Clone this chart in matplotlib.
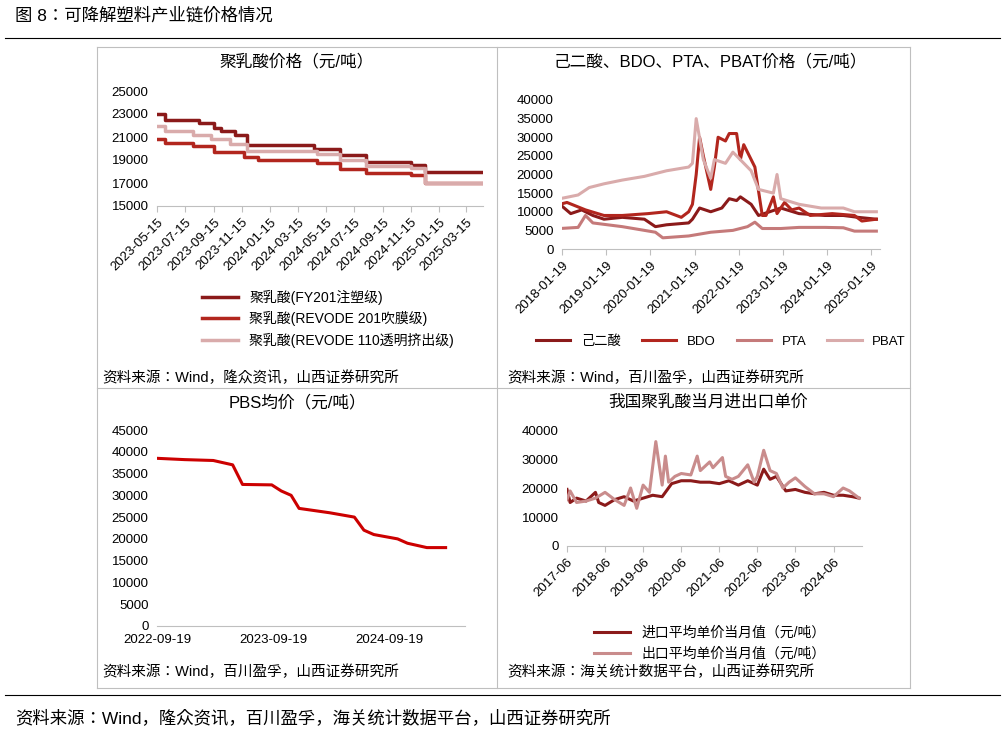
import matplotlib
matplotlib.use("Agg")
import matplotlib.pyplot as plt
import matplotlib.dates as mdates
import pandas as pd

CJK = ["Noto Sans CJK JP", "Noto Sans CJK SC", "Noto Sans CJK TC", "Noto Sans CJK KR"]
plt.rcParams["font.family"] = ["Liberation Sans"] + CJK

W, H = 1007, 735

# ---- panel 1: PLA step prices (start date of each level, level) ----
pla_fy201_dates = ["2023-05-15", "2023-06-01", "2023-08-15", "2023-09-15", "2023-10-01", "2023-11-01",
                   "2023-11-25", "2024-04-20", "2024-06-15", "2024-08-10", "2024-11-15", "2024-12-15", "2025-04-20"]
pla_fy201_vals = [23000, 22500, 22200, 21800, 21500, 21200, 20300, 20000, 19400, 18800, 18600, 18000, 18000]
pla_r201_dates = ["2023-05-15", "2023-06-01", "2023-08-01", "2023-09-15", "2023-11-20", "2023-12-20",
                  "2024-04-25", "2024-06-15", "2024-08-10", "2024-11-15", "2024-12-15", "2025-04-20"]
pla_r201_vals = [20800, 20500, 20200, 19700, 19300, 19000, 18700, 18200, 17900, 17700, 17000, 17000]
pla_r110_dates = ["2023-05-15", "2023-06-01", "2023-08-01", "2023-09-10", "2023-10-20", "2023-11-25",
                  "2024-04-25", "2024-06-15", "2024-08-10", "2024-11-15", "2024-12-15", "2025-04-20"]
pla_r110_vals = [22000, 21500, 21200, 20800, 20400, 19800, 19500, 19000, 18500, 18300, 17000, 17000]
pla_ticks = ["2023-05-15", "2023-07-15", "2023-09-15", "2023-11-15", "2024-01-15", "2024-03-15",
             "2024-05-15", "2024-07-15", "2024-09-15", "2024-11-15", "2025-01-15", "2025-03-15"]

# ---- panel 2: adipic acid / BDO / PTA / PBAT ----
adi_dates = ["2018-01", "2018-04", "2018-07", "2018-10", "2019-01", "2019-06", "2019-12", "2020-03", "2020-06",
             "2020-12", "2021-01", "2021-03", "2021-06", "2021-09", "2021-11", "2022-01", "2022-02", "2022-05",
             "2022-07", "2022-10", "2023-01", "2023-06", "2024-01", "2024-06", "2024-10", "2025-03"]
adi_vals = [12000, 9500, 10500, 9000, 8000, 8500, 8000, 6000, 6500, 7000, 8000, 11000, 10000, 11000, 13500,
            13000, 14000, 12000, 9000, 10000, 11000, 9500, 9000, 9000, 8500, 8000]
bdo_dates = ["2018-01", "2018-03", "2018-08", "2019-01", "2019-06", "2020-01", "2020-06", "2020-10", "2020-12",
             "2021-01", "2021-02", "2021-03", "2021-04", "2021-06", "2021-07", "2021-08", "2021-10", "2021-11",
             "2022-01", "2022-02", "2022-03", "2022-06", "2022-08", "2022-09", "2022-11", "2022-12", "2023-02",
             "2023-04", "2023-06", "2023-09", "2024-03", "2024-09", "2024-11", "2025-03"]
bdo_vals = [12000, 12500, 10500, 9000, 9000, 9500, 10000, 8500, 10000, 12000, 20000, 30000, 25000, 16000,
            22000, 30000, 29000, 31000, 31000, 24000, 28000, 22000, 9000, 9000, 14000, 9500, 12500, 10500,
            11000, 9000, 9500, 9000, 7500, 8000]
pta_dates = ["2018-01", "2018-06", "2018-08", "2018-10", "2019-06", "2019-12", "2020-03", "2020-05", "2020-12",
             "2021-06", "2021-12", "2022-04", "2022-06", "2022-08", "2023-01", "2023-06", "2024-01", "2024-06",
             "2024-09", "2025-03"]
pta_vals = [5500, 5800, 9000, 7000, 6000, 5000, 4500, 3000, 3500, 4500, 5000, 6000, 7200, 5500, 5500, 5800,
            5800, 5700, 4800, 4800]
pbat_dates = ["2018-01", "2018-06", "2018-09", "2019-01", "2019-06", "2019-12", "2020-06", "2020-12", "2021-01",
              "2021-02", "2021-04", "2021-06", "2021-07", "2021-10", "2021-12", "2022-01", "2022-05", "2022-07",
              "2022-11", "2022-12", "2023-01", "2023-06", "2023-12", "2024-06", "2024-09", "2025-03"]
pbat_vals = [13500, 14500, 16500, 17500, 18500, 19500, 21000, 22000, 23000, 35000, 24000, 19000, 24000, 23000,
             26000, 25000, 21000, 16000, 15000, 20000, 13500, 12000, 11000, 11000, 10000, 10000]
chem_ticks = ["2018-01-19", "2019-01-19", "2020-01-19", "2021-01-19", "2022-01-19", "2023-01-19",
              "2024-01-19", "2025-01-19"]

# ---- panel 3: PBS average price ----
pbs_dates = ["2022-09-19", "2022-12-15", "2023-03-15", "2023-05-15", "2023-06-15", "2023-09-15", "2023-10-15",
             "2023-11-15", "2023-12-10", "2024-03-15", "2024-06-01", "2024-07-01", "2024-08-01", "2024-10-15",
             "2024-11-15", "2025-01-15", "2025-03-15"]
pbs_vals = [38500, 38200, 38000, 37000, 32500, 32400, 31000, 30000, 27000, 26000, 25000, 22000, 21000, 20000,
            19000, 18000, 18000]
pbs_ticks = ["2022-09-19", "2023-09-19", "2024-09-19"]

# ---- panel 4: PLA import / export monthly unit price ----
imp_dates = ["2017-06", "2017-07", "2017-09", "2017-12", "2018-03", "2018-04", "2018-06", "2018-09", "2018-12",
             "2019-03", "2019-06", "2019-09", "2019-12", "2020-03", "2020-06", "2020-09", "2020-12", "2021-03",
             "2021-06", "2021-09", "2021-12", "2022-03", "2022-06", "2022-08", "2022-10", "2022-12", "2023-03",
             "2023-06", "2023-09", "2023-12", "2024-03", "2024-06", "2024-09", "2024-12", "2025-02"]
imp_vals = [19500, 15000, 16500, 15500, 18500, 15000, 14000, 16000, 17000, 15500, 16500, 17500, 17000, 21500,
            22500, 22500, 22000, 22000, 21500, 22500, 21000, 22500, 21000, 26500, 23000, 24000, 19000, 19500,
            18500, 18000, 18500, 17500, 17500, 17000, 16500]
exp_dates = ["2017-06", "2017-07", "2017-09", "2017-12", "2018-03", "2018-06", "2018-09", "2018-12", "2019-02",
             "2019-04", "2019-06", "2019-08", "2019-10", "2019-12", "2020-01", "2020-02", "2020-04", "2020-06",
             "2020-09", "2020-11", "2020-12", "2021-03", "2021-04", "2021-07", "2021-08", "2021-10", "2021-12",
             "2022-03", "2022-05", "2022-06", "2022-08", "2022-10", "2022-12", "2023-02", "2023-04", "2023-06",
             "2023-09", "2023-12", "2024-03", "2024-06", "2024-09", "2024-11", "2025-02"]
exp_vals = [16000, 19000, 15000, 15500, 16500, 18500, 16000, 14000, 20000, 13000, 21000, 18500, 36000, 21000,
            31000, 22000, 24000, 25000, 24500, 31000, 26000, 29000, 27000, 30500, 24000, 23000, 24000, 28000,
            22000, 24000, 33000, 26000, 25000, 20000, 22000, 23500, 20500, 18000, 18000, 17000, 20000, 19000, 16500]
trade_ticks = ["2017-06", "2018-06", "2019-06", "2020-06", "2021-06", "2022-06", "2023-06", "2024-06"]

DARK = "#8B1A1A"
RED = "#B2261E"
PINK = "#C57A7A"
LIGHT = "#D9ABAB"

fig = plt.figure(figsize=(W / 100, H / 100), dpi=100)


def px_axes(x0, y0, x1, y1):
    return fig.add_axes([x0 / W, 1 - y1 / H, (x1 - x0) / W, (y1 - y0) / H])


def style(ax, yticks, ylim):
    ax.set_ylim(*ylim)
    ax.set_yticks(yticks)
    for s in ("top", "right", "left"):
        ax.spines[s].set_visible(False)
    ax.spines["bottom"].set_color("#BFBFBF")
    ax.tick_params(axis="y", length=0, labelsize=9.5, pad=6)
    ax.tick_params(axis="x", color="#BFBFBF", labelsize=9.5, direction="out", length=4)


def fig_text(x, y, s, size=11, **kw):
    fig.text(x / W, 1 - y / H, s, fontsize=size, va="center", **kw)


dt = pd.to_datetime
LEG = {"size": 10}

# panel 1
ax1 = px_axes(157, 91, 483, 206)
ax1.step(dt(pla_fy201_dates), pla_fy201_vals, where="post", color=DARK, lw=2.5, label="聚乳酸(FY201注塑级)")
ax1.step(dt(pla_r201_dates), pla_r201_vals, where="post", color=RED, lw=2.5, label="聚乳酸(REVODE 201吹膜级)")
ax1.step(dt(pla_r110_dates), pla_r110_vals, where="post", color=LIGHT, lw=2.5, label="聚乳酸(REVODE 110透明挤出级)")
style(ax1, range(15000, 25001, 2000), (15000, 25000))
ax1.set_xlim(dt("2023-05-15"), dt("2025-04-20"))
ax1.set_xticks(dt(pla_ticks))
ax1.xaxis.set_major_formatter(mdates.DateFormatter("%Y-%m-%d"))
plt.setp(ax1.get_xticklabels(), rotation=45, ha="right", rotation_mode="anchor")
ax1.legend(loc="upper left", bbox_to_anchor=(0.1, -0.62), frameon=False, prop=LEG,
           handlelength=2.6, labelspacing=0.45)

# panel 2
ax2 = px_axes(562, 100, 880, 249)
ax2.plot(dt(adi_dates), adi_vals, color=DARK, lw=2.2, label="己二酸")
ax2.plot(dt(bdo_dates), bdo_vals, color=RED, lw=2.2, label="BDO")
ax2.plot(dt(pta_dates), pta_vals, color=PINK, lw=2.2, label="PTA")
ax2.plot(dt(pbat_dates), pbat_vals, color=LIGHT, lw=2.2, label="PBAT")
style(ax2, range(0, 40001, 5000), (0, 40000))
ax2.set_xlim(dt("2018-01-19"), dt("2025-03-31"))
ax2.set_xticks(dt(chem_ticks))
ax2.xaxis.set_major_formatter(mdates.DateFormatter("%Y-%m-%d"))
plt.setp(ax2.get_xticklabels(), rotation=45, ha="right", rotation_mode="anchor")
ax2.legend(loc="upper center", bbox_to_anchor=(0.5, -0.5), ncol=4, frameon=False,
           prop={"size": 9.5}, handlelength=2.6, columnspacing=1.6)

# panel 3
ax3 = px_axes(157, 430, 465, 626)
ax3.plot(dt(pbs_dates), pbs_vals, color="#CC0000", lw=2.2)
style(ax3, range(0, 45001, 5000), (0, 45000))
ax3.set_xlim(dt("2022-09-19"), dt("2025-05-15"))
ax3.set_xticks(dt(pbs_ticks))
ax3.xaxis.set_major_formatter(mdates.DateFormatter("%Y-%m-%d"))
ax3.tick_params(axis="x", length=0, pad=6)

# panel 4
ax4 = px_axes(567, 430, 862, 546)
ax4.plot(dt(imp_dates), imp_vals, color=DARK, lw=2.2, label="进口平均单价当月值（元/吨）")
ax4.plot(dt(exp_dates), exp_vals, color="#C98C8C", lw=2.2, label="出口平均单价当月值（元/吨）")
style(ax4, range(0, 40001, 10000), (0, 40000))
ax4.set_xlim(dt("2017-06"), dt("2025-03"))
ax4.set_xticks(dt(trade_ticks))
ax4.xaxis.set_major_formatter(mdates.DateFormatter("%Y-%m"))
plt.setp(ax4.get_xticklabels(), rotation=45, ha="right", rotation_mode="anchor")
ax4.legend(loc="upper left", bbox_to_anchor=(0.05, -0.58), frameon=False, prop=LEG,
           handlelength=2.6, labelspacing=0.5)

# frame, titles, sources
fig_text(15, 15, "图 8：可降解塑料产业链价格情况", size=12.5)
fig.add_artist(plt.Line2D([5 / W, 1000 / W], [1 - 38 / H] * 2, color="black", lw=0.8))
fig.add_artist(plt.Line2D([5 / W, 1000 / W], [1 - 695 / H] * 2, color="black", lw=0.8))
for (x0, y0, x1, y1) in [(97, 47, 910, 47), (97, 47, 97, 688), (910, 47, 910, 688), (97, 688, 910, 688),
                         (97, 388, 910, 388), (497, 47, 497, 688)]:
    fig.add_artist(plt.Line2D([x0 / W, x1 / W], [1 - y0 / H, 1 - y1 / H], color="#BFBFBF", lw=0.8))
fig_text(297, 61, "聚乳酸价格（元/吨）", size=12, ha="center")
fig_text(710, 61, "己二酸、BDO、PTA、PBAT价格（元/吨）", size=12, ha="center")
fig_text(297, 402, "PBS均价（元/吨）", size=12, ha="center")
fig_text(708, 402, "我国聚乳酸当月进出口单价", size=12, ha="center")
fig_text(102, 378, "资料来源：Wind，隆众资讯，山西证券研究所", size=10.5)
fig_text(507, 378, "资料来源：Wind，百川盈孚，山西证券研究所", size=10.5)
fig_text(102, 672, "资料来源：Wind，百川盈孚，山西证券研究所", size=10.5)
fig_text(507, 672, "资料来源：海关统计数据平台，山西证券研究所", size=10.5)
fig_text(15, 718, "资料来源：Wind，隆众资讯，百川盈孚，海关统计数据平台，山西证券研究所", size=12.5)

fig.savefig("out.png", dpi=100)
